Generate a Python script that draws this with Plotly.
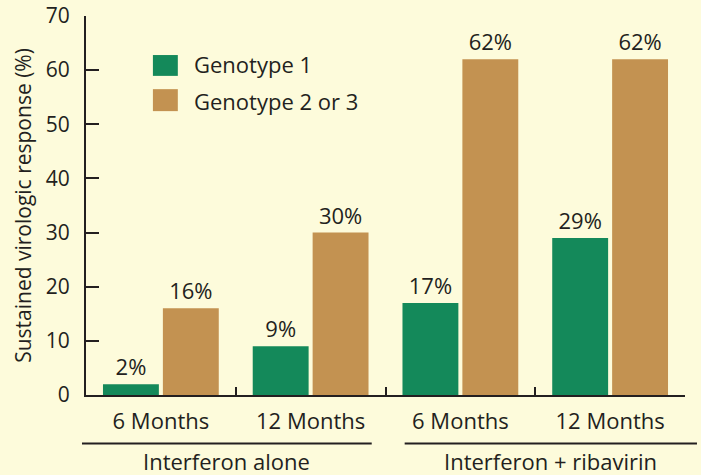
import plotly.graph_objects as go

# ---- data ----
categories = ["IFN 6", "IFN 12", "IFN+RBV 6", "IFN+RBV 12"]
tick_labels = ["6 Months", "12 Months", "6 Months", "12 Months"]
group_labels = ["Interferon alone", "Interferon + ribavirin"]
series_names = ["Genotype 1", "Genotype 2 or 3"]
genotype1 = [2, 9, 17, 29]
genotype23 = [16, 30, 62, 62]

# ---- style ----
GREEN = "#14895a"
TAN = "#c39251"
BG = "#fdfbdb"
INK = "#231f20"
FONT = "Open Sans"
FS = 22

fig = go.Figure()
for name, vals, col in [(series_names[0], genotype1, GREEN), (series_names[1], genotype23, TAN)]:
    fig.add_trace(go.Bar(
        x=categories, y=vals, name=name, marker=dict(color=col, line=dict(width=0)),
        texttemplate="%{y}%", textposition="outside", cliponaxis=False,
        textfont=dict(family=FONT, size=FS, color=INK), showlegend=False,
    ))

fig.update_layout(
    width=701, height=475,
    margin=dict(l=86, r=16, t=16, b=80),
    paper_bgcolor=BG, plot_bgcolor=BG,
    font=dict(family=FONT, size=FS, color=INK),
    barmode="group", bargap=0.2, bargroupgap=0.067,
)
fig.update_xaxes(
    type="category", tickmode="array", tickvals=categories, ticktext=tick_labels,
    tickson="boundaries", ticks="inside", ticklen=8, tickwidth=2, tickcolor=INK,
    showline=True, linewidth=2, linecolor=INK, showgrid=False, zeroline=False,
    ticklabelstandoff=6, automargin=False, ticklabeloverflow="allow",
)
fig.update_yaxes(
    range=[0, 70], dtick=10, ticks="inside", ticklen=13, tickwidth=2, tickcolor=INK,
    showline=True, linewidth=2, linecolor=INK, showgrid=False, zeroline=False,
    ticklabelstandoff=10, automargin=False, ticklabeloverflow="allow",
    tickfont=dict(size=21),
    title=dict(text="Sustained virologic response (%)", standoff=8, font=dict(size=21)),
)

# group underline + labels
spans = [(-0.0067, 0.477), (0.532, 1.02)]
for (x0, x1), lab in zip(spans, group_labels):
    fig.add_shape(type="line", xref="paper", yref="paper", x0=x0, x1=x1, y0=-0.128, y1=-0.128,
                  line=dict(color=INK, width=2))
    fig.add_annotation(xref="paper", yref="paper", x=(x0 + x1) / 2, y=-0.1735, text=lab,
                       showarrow=False, xanchor="center", yanchor="middle",
                       font=dict(family=FONT, size=22, color=INK))

# legend swatches
leg = [(series_names[0], GREEN, 0.897, 0.842, 0.873), (series_names[1], TAN, 0.807, 0.749, 0.776)]
for name, col, ytop, ybot, ytxt in leg:
    fig.add_shape(type="rect", xref="paper", yref="paper", x0=0.1117, x1=0.1533, y0=ybot, y1=ytop,
                  fillcolor=col, line=dict(width=0))
    fig.add_annotation(xref="paper", yref="paper", x=0.1767, y=ytxt, text=name, showarrow=False,
                       xanchor="left", yanchor="middle", font=dict(family=FONT, size=FS, color=INK))

fig.write_html("out.html", config={"displayModeBar": False},
               post_script="document.body.style.margin='0';document.body.style.background='" + BG + "';")
